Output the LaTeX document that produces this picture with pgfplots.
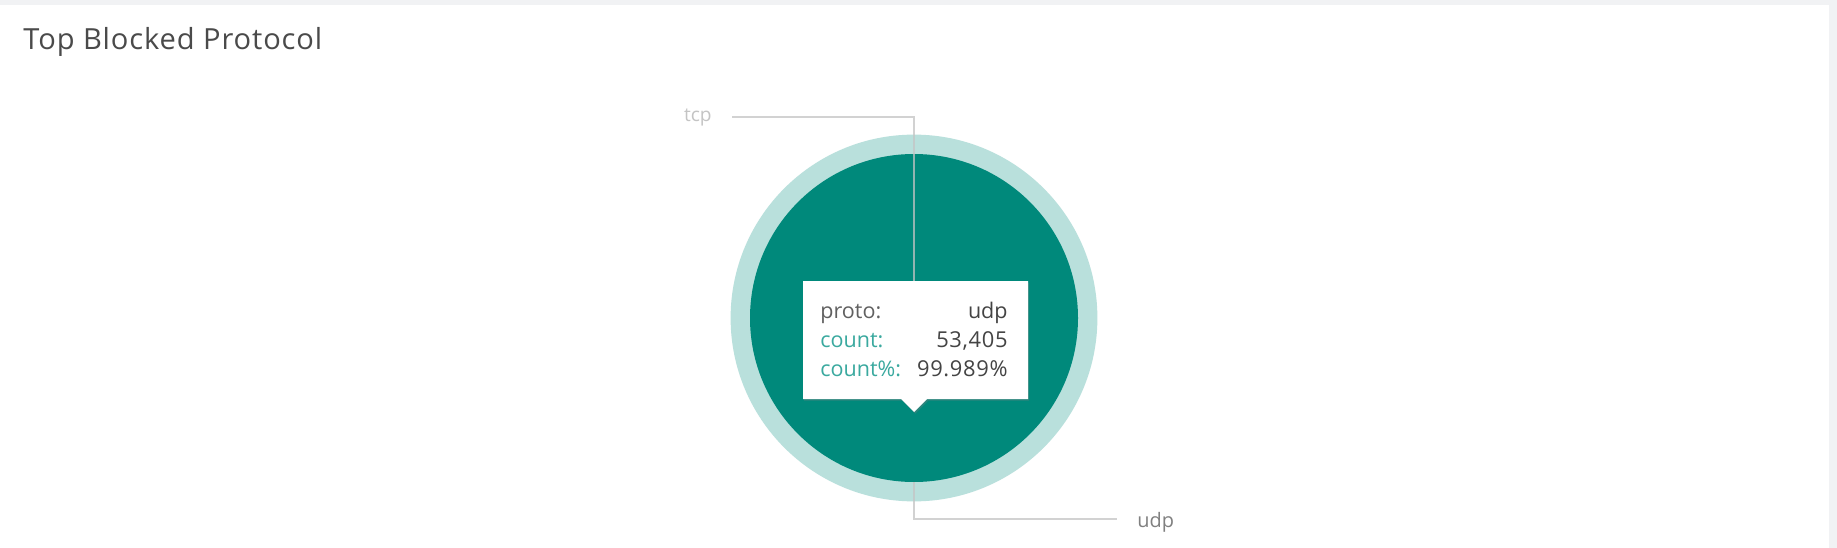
\documentclass[border=0pt]{standalone}
\usepackage{fontspec}
\setmainfont{Open Sans}
\newfontfamily\titlefont[LetterSpace=3]{Open Sans}
\newfontfamily\valfont[LetterSpace=3]{Open Sans}
\usepackage{pgfplots}
\usepackage{pgfplotstable}
\pgfplotsset{compat=1.18}
\usetikzlibrary{shadows}
\definecolor{pieA}{HTML}{00897B}
\definecolor{ringA}{HTML}{B9E0DC}
\definecolor{labteal}{HTML}{3AA99F}
\definecolor{titlec}{HTML}{4A4A4A}
\definecolor{valc}{HTML}{444444}
\definecolor{linec}{HTML}{C4C4C4}
\definecolor{bgc}{HTML}{F1F2F4}

\pgfplotstableread{
proto count
udp 53405
tcp 6
}\piedata

\pgfplotstablegetelem{0}{count}\of\piedata \let\udpcount\pgfplotsretval
\pgfplotstablegetelem{1}{count}\of\piedata \let\tcpcount\pgfplotsretval
\pgfkeys{/pgf/fpu=true,/pgf/fpu/output format=fixed}
\pgfmathsetmacro{\tcpang}{360*\tcpcount/(\udpcount+\tcpcount)}
\pgfkeys{/pgf/fpu=false}
\pgfmathsetmacro{\tcpend}{90-\tcpang}
\pgfmathsetmacro{\udpend}{90-360}

\begin{document}
\begin{tikzpicture}
\begin{axis}[
  hide axis, scale only axis,
  width=918.5bp, height=274bp,
  xmin=0, xmax=1837, ymin=0, ymax=548, y dir=reverse,
  clip=false,
]
% background panel
\fill[bgc] (axis cs:0,0) rectangle (axis cs:1837,548);
\fill[white] (axis cs:0,5) rectangle (axis cs:1829,548);
% title
\node[anchor=base west, text=titlec, font=\titlefont\fontsize{14.6}{17}\selectfont, inner sep=0pt]
  at (axis cs:23,50) {Top Blocked Protocol};
% hover ring of udp slice
\fill[ringA] (axis cs:914,318) -- ++(\tcpend:91.7bp) arc[start angle=\tcpend, end angle=\udpend, radius=91.7bp] -- cycle;
% pie slices
\fill[pieA] (axis cs:914,318) -- ++(\tcpend:82bp) arc[start angle=\tcpend, end angle=\udpend, radius=82bp] -- cycle;
\fill[pieA!80!black] (axis cs:914,318) -- ++(90:82bp) arc[start angle=90, end angle=\tcpend, radius=82bp] -- cycle;
% leader lines
\draw[linec, line width=0.8bp, opacity=0.75] (axis cs:732,117) -- (axis cs:914,117) -- (axis cs:914,318);
\draw[linec, line width=0.8bp, opacity=0.75] (axis cs:914,482) -- (axis cs:914,519) -- (axis cs:1117,519);
\node[anchor=east, text=linec, font=\fontsize{9.6}{11}\selectfont, inner sep=0pt] at (axis cs:712,117) {tcp};
\node[anchor=west, text=gray, font=\fontsize{10}{12}\selectfont, inner sep=0pt] at (axis cs:1137,522) {udp};
% tooltip
\fill[white, drop shadow={opacity=0.35, shadow xshift=0.6bp, shadow yshift=-0.8bp}]
  (axis cs:803,281) -- (axis cs:1028,281) -- (axis cs:1028,399) -- (axis cs:927,399)
  -- (axis cs:914,412) -- (axis cs:901,399) -- (axis cs:803,399) -- cycle;
\node[anchor=base west, text=valc!85, font=\fontsize{10.8}{12}\selectfont, inner sep=0pt] at (axis cs:820,318) {proto:};
\node[anchor=base west, text=labteal, font=\fontsize{10.8}{12}\selectfont, inner sep=0pt] at (axis cs:820,347) {count:};
\node[anchor=base west, text=labteal, font=\fontsize{10.8}{12}\selectfont, inner sep=0pt] at (axis cs:820,376) {count\%:};
\node[anchor=base east, text=valc, font=\fontsize{10.8}{12}\selectfont, inner sep=0pt] at (axis cs:1008,318) {udp};
\node[anchor=base east, text=valc, font=\valfont\fontsize{11}{12}\selectfont, inner sep=0pt] at (axis cs:1008,347) {53,405};
\node[anchor=base east, text=valc, font=\valfont\fontsize{11}{12}\selectfont, inner sep=0pt] at (axis cs:1008,376) {99.989\%};
\end{axis}
\end{tikzpicture}
\end{document}
